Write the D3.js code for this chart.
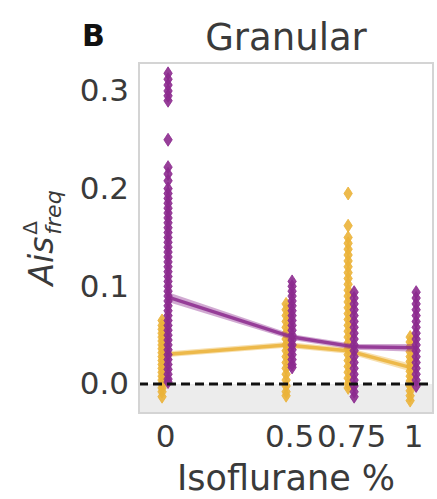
<!DOCTYPE html>
<html>
<head>
<meta charset="utf-8">
<script src="https://cdn.jsdelivr.net/npm/d3@7"></script>
<style>
  html, body { margin: 0; padding: 0; background: #ffffff; }
  svg { display: block; font-family: "DejaVu Sans", sans-serif; }
</style>
</head>
<body>
<svg id="chart" width="437" height="499"></svg>
<script>
// ---------------- data ----------------
const categories = [0, 0.5, 0.75, 1];
const tickLabels = ["0", "0.5", "0.75", "1"];
const yTicks = [0.0, 0.1, 0.2, 0.3];
const seriesNames = ["yellow", "purple"];

// individual points (stripplot) per category, yellow series
const yellowPoints = [
  [0.065, 0.06, 0.056, 0.052, 0.048, 0.044, 0.04, 0.036, 0.032, 0.028, 0.024, 0.02, 0.016, 0.012, 0.008, 0.004, 0.0, -0.004, -0.008, -0.013],
  [0.082, 0.076, 0.07, 0.064, 0.058, 0.052, 0.046, 0.04, 0.034, 0.028, 0.022, 0.016, 0.01, 0.004, -0.002, -0.008, -0.012],
  [0.195, 0.162, 0.15, 0.144, 0.138, 0.132, 0.126, 0.12, 0.114, 0.108, 0.102, 0.096, 0.09, 0.084, 0.078, 0.072, 0.066, 0.06, 0.054, 0.048, 0.042, 0.036, 0.03, 0.024, 0.018, 0.012, 0.006, 0.0, -0.004],
  [0.048, 0.043, 0.038, 0.033, 0.028, 0.023, 0.018, 0.013, 0.008, 0.003, -0.002, -0.007, -0.012, -0.017]
];
// purple series
const purplePoints = [
  [0.318, 0.312, 0.306, 0.3, 0.295, 0.29, 0.25, 0.222, 0.215, 0.208, 0.2, 0.195, 0.19, 0.185, 0.18, 0.175, 0.17, 0.165, 0.16, 0.155, 0.15, 0.145, 0.14, 0.135, 0.13, 0.125, 0.12, 0.115, 0.11, 0.105, 0.1, 0.095, 0.09, 0.085, 0.08, 0.075, 0.07, 0.065, 0.06, 0.055, 0.05, 0.045, 0.04, 0.035, 0.03, 0.025, 0.02, 0.015, 0.01, 0.005, 0.002],
  [0.105, 0.1, 0.095, 0.09, 0.085, 0.08, 0.075, 0.07, 0.065, 0.06, 0.055, 0.05, 0.045, 0.04, 0.035, 0.03, 0.025, 0.02, 0.017],
  [0.094, 0.088, 0.082, 0.076, 0.07, 0.064, 0.058, 0.052, 0.046, 0.04, 0.034, 0.028, 0.022, 0.016, 0.01, 0.004, -0.002, -0.008, -0.013],
  [0.094, 0.088, 0.082, 0.076, 0.07, 0.064, 0.058, 0.052, 0.046, 0.04, 0.034, 0.028, 0.022, 0.016, 0.01, 0.004, -0.002]
];

// mean lines with confidence band
const yellowMean = [0.030, 0.040, 0.034, 0.017];
const yellowLo   = [0.027, 0.037, 0.031, 0.013];
const yellowHi   = [0.033, 0.043, 0.037, 0.021];
const purpleMean = [0.089, 0.048, 0.038, 0.037];
const purpleLo   = [0.084, 0.045, 0.035, 0.033];
const purpleHi   = [0.094, 0.051, 0.041, 0.041];

// ---------------- layout ----------------
const W = 437, H = 499;
const plot = { left: 139, right: 433, top: 63, bottom: 413 };
const colors = { yellow: "#EBB238", purple: "#8C2A8E" };
const dodge = { yellow: -3, purple: 3 };

const svg = d3.select("#chart");

const x = d3.scaleLinear().domain([-0.105, 1.08]).range([plot.left, plot.right]);
const y = d3.scaleLinear().domain([-0.0297, 0.3286]).range([plot.bottom, plot.top]);

// clip
svg.append("defs").append("clipPath").attr("id", "clip")
  .append("rect").attr("x", plot.left).attr("y", plot.top)
  .attr("width", plot.right - plot.left).attr("height", plot.bottom - plot.top);

// shaded region below zero
svg.append("rect")
  .attr("x", plot.left).attr("y", y(0))
  .attr("width", plot.right - plot.left).attr("height", plot.bottom - y(0))
  .attr("fill", "#ececec");

const g = svg.append("g").attr("clip-path", "url(#clip)");

const diamond = "M0,-6.5 L4.2,0 L0,6.5 L-4.2,0 Z";

function drawPoints(points, name) {
  const data = [];
  points.forEach((arr, i) => arr.forEach(v => data.push({ c: categories[i], v })));
  g.append("g").selectAll("path").data(data).join("path")
    .attr("d", diamond)
    .attr("transform", d => `translate(${x(d.c) + dodge[name]},${y(d.v)})`)
    .attr("fill", colors[name])
    .attr("stroke", colors[name])
    .attr("stroke-width", 0.8)
    .attr("fill-opacity", 0.9);
}

function drawLine(mean, lo, hi, name) {
  const area = d3.area()
    .x((d, i) => x(categories[i]) + dodge[name])
    .y0((d, i) => y(lo[i]))
    .y1((d, i) => y(hi[i]));
  g.append("path").datum(mean).attr("d", area)
    .attr("fill", colors[name]).attr("fill-opacity", 0.4);
  const line = d3.line()
    .x((d, i) => x(categories[i]) + dodge[name])
    .y(d => y(d));
  g.append("path").datum(mean).attr("d", line)
    .attr("fill", "none").attr("stroke", colors[name])
    .attr("stroke-width", 3.5).attr("stroke-opacity", 0.85);
}

drawPoints(yellowPoints, "yellow");
drawLine(yellowMean, yellowLo, yellowHi, "yellow");
drawPoints(purplePoints, "purple");
drawLine(purpleMean, purpleLo, purpleHi, "purple");

// zero dashed line
svg.append("line")
  .attr("x1", plot.left).attr("x2", plot.right)
  .attr("y1", y(0)).attr("y2", y(0))
  .attr("stroke", "#111").attr("stroke-width", 3)
  .attr("stroke-dasharray", "9,5");

// frame
svg.append("rect")
  .attr("x", plot.left).attr("y", plot.top)
  .attr("width", plot.right - plot.left).attr("height", plot.bottom - plot.top)
  .attr("fill", "none").attr("stroke", "#d4d4d4").attr("stroke-width", 2);

// y axis
const yAxis = d3.axisLeft(y).tickValues(yTicks).tickFormat(d3.format(".1f")).tickSize(0).tickPadding(10);
const ya = svg.append("g").attr("transform", `translate(${plot.left},0)`).call(yAxis);
ya.select(".domain").remove();
ya.selectAll("text").attr("font-size", 31).attr("fill", "#3a3a3a").attr("font-family", "DejaVu Sans");

// x axis
const xAxis = d3.axisBottom(x).tickValues(categories).tickFormat((d, i) => tickLabels[i]).tickSize(0).tickPadding(12);
const xa = svg.append("g").attr("transform", `translate(0,${plot.bottom})`).call(xAxis);
xa.select(".domain").remove();
xa.selectAll("text").attr("font-size", 31).attr("fill", "#3a3a3a").attr("font-family", "DejaVu Sans");

// x label
svg.append("text").attr("x", 286).attr("y", 490).attr("text-anchor", "middle")
  .attr("font-size", 35).attr("fill", "#3a3a3a").text("Isoflurane %");

// title
svg.append("text").attr("x", 286).attr("y", 50).attr("text-anchor", "middle")
  .attr("font-size", 37).attr("fill", "#3a3a3a").text("Granular");
svg.append("text").attr("x", 82).attr("y", 46)
  .attr("font-size", 30).attr("font-weight", "bold").attr("fill", "#111").text("B");

// y label: Ais^Δ_freq
const yl = svg.append("g").attr("transform", "translate(53,238) rotate(-90)");
const ais = yl.append("text").attr("font-size", 33).attr("font-style", "italic").attr("fill", "#3a3a3a").text("Ais");
const aisW = ais.node().getComputedTextLength();
const sup = yl.append("text").attr("font-size", 20).attr("fill", "#3a3a3a").text("Δ");
const sub = yl.append("text").attr("font-size", 22).attr("font-style", "italic").attr("fill", "#3a3a3a").text("freq");
const subW = sub.node().getComputedTextLength();
const total = aisW + 2 + subW;
ais.attr("x", -total / 2).attr("y", 0);
sup.attr("x", -total / 2 + aisW + 2).attr("y", -16);
sub.attr("x", -total / 2 + aisW + 2).attr("y", 8);
</script>
</body>
</html>
